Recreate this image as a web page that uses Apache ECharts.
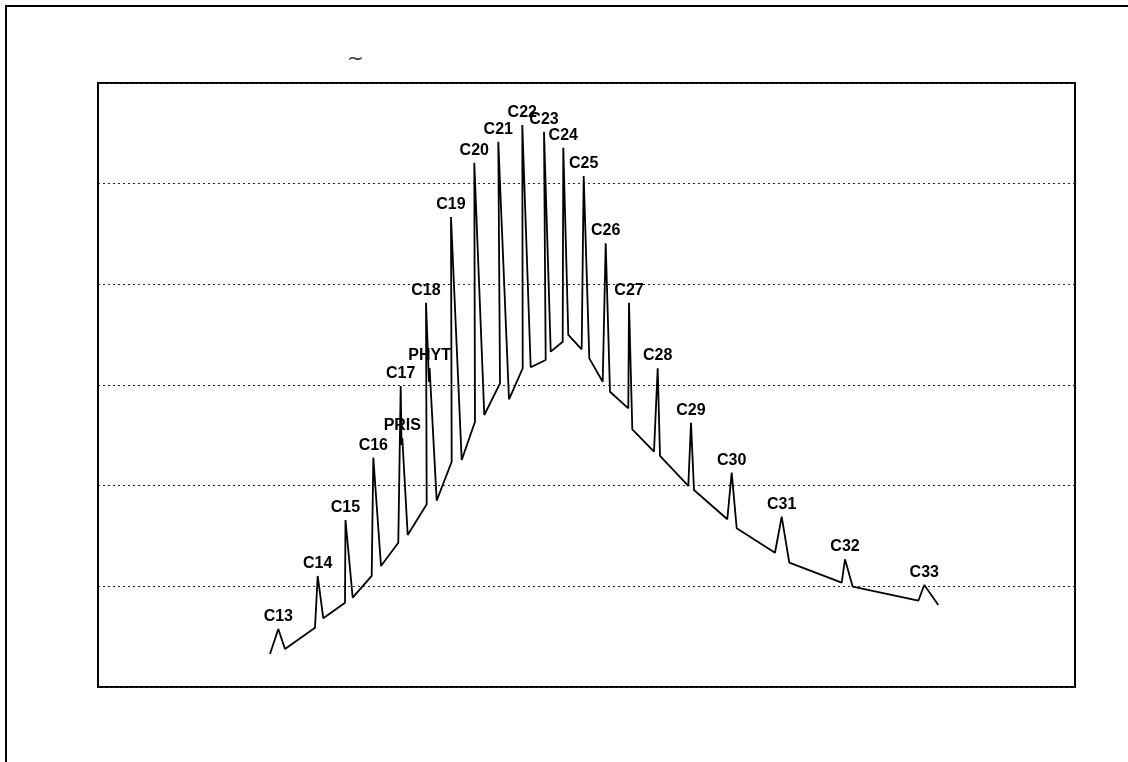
<!DOCTYPE html>
<html>
<head>
<meta charset="utf-8">
<script src="https://cdn.jsdelivr.net/npm/echarts@6/dist/echarts.min.js"></script>
<style>
html,body{margin:0;padding:0;background:#fff;}
#chart{width:1128px;height:762px;}
</style>
</head>
<body>
<div id="chart"></div>
<script>
// Retention time (min) of each trace vertex
var retentionTimes = [
  10.563, 11.073, 11.484, 13.326, 13.492, 13.836, 15.169, 15.199, 15.642, 16.808,
  16.907, 17.380, 18.442, 18.589, 18.639, 18.688, 19.019, 20.186, 20.143, 20.327,
  20.364, 20.800, 21.721, 21.678, 22.336, 23.152, 23.109, 23.723, 24.688, 24.583,
  25.240, 26.082, 26.057, 26.573, 27.494, 27.390, 27.802, 28.538, 28.575, 28.882,
  29.705, 29.828, 30.172, 30.995, 31.179, 31.443, 32.567, 32.610, 32.813, 34.145,
  34.372, 34.514, 36.251, 36.417, 36.602, 38.647, 38.917, 39.224, 41.576, 41.987,
  42.454, 45.672, 45.875, 46.348, 50.377, 50.745, 51.605
];
// Detector response of each trace vertex
var responses = [
  0.328, 0.576, 0.377, 0.589, 1.103, 0.682, 0.837, 1.659, 0.887, 1.103,
  2.278, 1.202, 1.433, 2.990, 2.404, 2.473, 1.510, 1.815, 3.817, 3.030,
  3.169, 1.851, 2.238, 4.669, 2.255, 2.635, 5.208, 2.702, 3.017, 5.417,
  2.858, 3.166, 5.583, 3.176, 3.248, 5.516, 3.331, 3.430, 5.357, 3.497,
  3.355, 5.076, 3.265, 3.033, 4.407, 2.933, 2.768, 3.817, 2.560, 2.337,
  3.166, 2.295, 1.997, 2.625, 1.957, 1.666, 2.129, 1.576, 1.334, 1.692,
  1.235, 1.036, 1.269, 0.996, 0.857, 1.013, 0.815
];
// Peak names (empty = no label)
var peakNames = [
  "", "C13", "", "", "C14", "", "", "C15", "", "",
  "C16", "", "", "C17", "", "PRIS", "", "", "C18", "",
  "PHYT", "", "", "C19", "", "", "C20", "", "", "C21",
  "", "", "C22", "", "", "C23", "", "", "C24", "",
  "", "C25", "", "", "C26", "", "", "C27", "", "",
  "C28", "", "", "C29", "", "", "C30", "", "", "C31",
  "", "", "C32", "", "", "C33", ""
];
var yTicks = [0, 1, 2, 3, 4, 5, 6];

var data = retentionTimes.map(function (t, i) {
  var item = { value: [t, responses[i]] };
  if (peakNames[i]) {
    item.label = { show: true, formatter: peakNames[i] };
  }
  return item;
});

var chart = echarts.init(document.getElementById('chart'), null, { renderer: 'canvas' });
chart.setOption({
  backgroundColor: '#ffffff',
  animation: false,
  grid: {
    left: 98, top: 83, right: 53, bottom: 75,
    show: true, borderColor: '#000', borderWidth: 2, backgroundColor: 'transparent'
  },
  xAxis: {
    type: 'value', min: 0, max: 60,
    axisLine: { show: false }, axisTick: { show: false },
    axisLabel: { show: false }, splitLine: { show: false }
  },
  yAxis: {
    type: 'value', min: yTicks[0], max: yTicks[yTicks.length - 1], interval: 1,
    axisLine: { show: false }, axisTick: { show: false },
    axisLabel: { show: false },
    splitLine: { show: true, lineStyle: { color: '#222', type: [2, 3], width: 1 } }
  },
  series: [{
    type: 'line',
    data: data,
    showSymbol: true,
    symbol: 'circle',
    symbolSize: 1,
    itemStyle: { color: 'rgba(0,0,0,0)' },
    lineStyle: { color: '#000', width: 1.8 },
    label: {
      show: false,
      position: 'top',
      distance: 4,
      color: '#000',
      fontFamily: 'Liberation Sans, Arial, sans-serif',
      fontWeight: 'bold',
      fontSize: 16
    },
    labelLayout: { hideOverlap: false },
    emphasis: { disabled: true },
    z: 3
  }],
  graphic: [
    { type: 'rect', shape: { x: 6, y: 6, width: 1200, height: 800 },
      style: { fill: 'none', stroke: '#000', lineWidth: 2 }, silent: true },
    { type: 'text', left: 347, top: 50,
      style: { text: '~', fontSize: 20, fill: '#333', fontFamily: 'DejaVu Sans' }, silent: true }
  ]
});
</script>
</body>
</html>
